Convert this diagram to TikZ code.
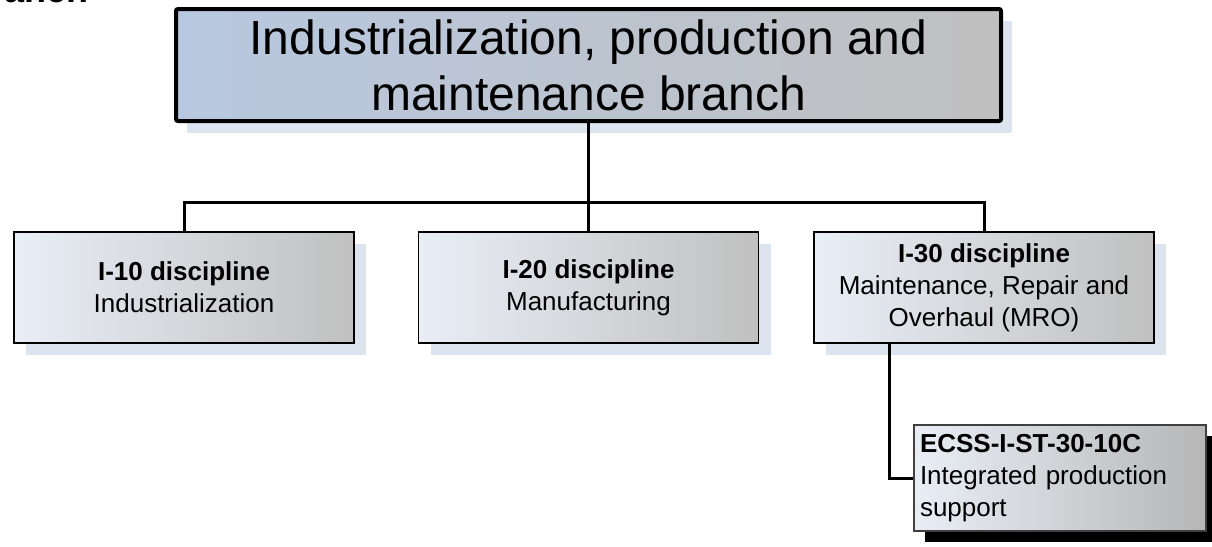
\documentclass[tikz,border=0pt]{standalone}
\usepackage{fontspec}
\setmainfont{Liberation Sans}
\usetikzlibrary{shadows}
\definecolor{topleft}{RGB}{184,200,224}
\definecolor{boxgray}{RGB}{192,192,192}
\definecolor{boxleft}{RGB}{233,238,246}
\definecolor{shadowblue}{RGB}{220,228,240}
\begin{document}
\begin{tikzpicture}[x=1pt,y=-1pt,
  link/.style={draw=black,line width=3pt},
  topbox/.style={draw=black,line width=4pt,rounded corners=2pt,
    left color=topleft,right color=boxgray,
    minimum width=825pt,minimum height=112pt,inner sep=0pt,align=center,
    font=\fontsize{48}{56}\selectfont,
    drop shadow={shadow xshift=11pt,shadow yshift=-12pt,fill=shadowblue,opacity=1}},
  discbox/.style={draw=black,line width=1.8pt,
    left color=boxleft,right color=boxgray,
    minimum width=340pt,minimum height=111pt,inner sep=0pt,align=center,
    font=\fontsize{26}{32}\selectfont,
    drop shadow={shadow xshift=12pt,shadow yshift=-12pt,fill=shadowblue,opacity=1}},
  stdbox/.style={draw=black!75,line width=1.6pt,
    left color=boxleft,right color=boxgray!95!black,
    text width=280pt,minimum height=106pt,inner sep=6pt,align=left,
    font=\fontsize{26}{32}\selectfont,
    drop shadow={shadow xshift=11pt,shadow yshift=-11pt,fill=black,opacity=1}}]
\useasboundingbox (0,0) rectangle (1212,546);
\begin{scope}
\clip (0,0) rectangle (1212,546);
\node[anchor=base west,font=\bfseries\fontsize{36}{40}\selectfont,inner sep=0pt] (frag) at (4,2) {anch};
\node[topbox] (top) at (588.5,65) {Industrialization, production and\\maintenance branch};
\node[discbox] (d1) at (184,287.5) {\textbf{I-10 discipline}\\Industrialization};
\node[discbox] (d2) at (588.5,287.5) {\textbf{I-20 discipline}\\Manufacturing};
\node[discbox] (d3) at (984,287.5) {\textbf{I-30 discipline}\\Maintenance, Repair and\\Overhaul (MRO)};
\node[stdbox] (s1) at (1060,478) {\textbf{ECSS-I-ST-30-10C}\\Integrated production\\support};
\coordinate (bar) at (0,202);
\coordinate (jx) at (889,0);
\draw[link] (top.south) -- (d2.north);
\draw[link] (d1.north) -- (d1.north |- bar) -| (d3.north);
\draw[link] (d3.south -| jx) |- (s1.west);
\end{scope}
\end{tikzpicture}
\end{document}
